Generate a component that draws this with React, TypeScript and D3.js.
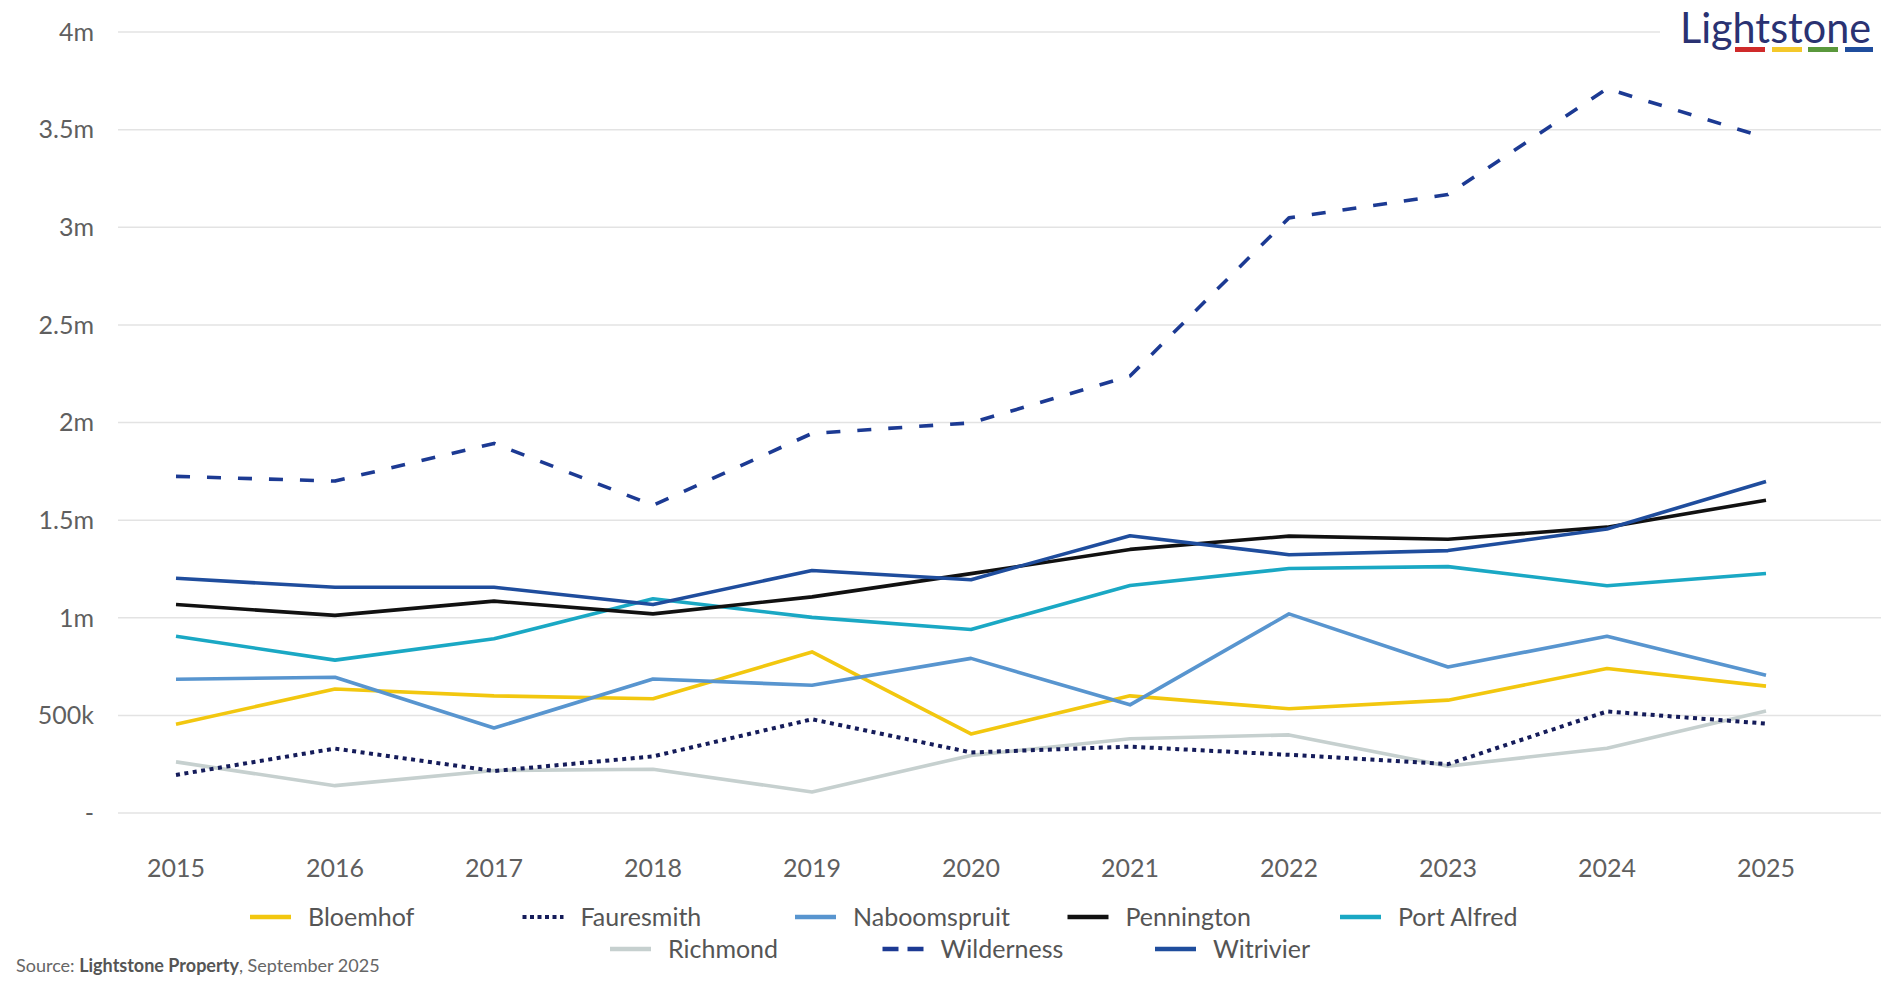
import * as d3 from 'd3';

// values (rand, per year)
const years = [2015, 2016, 2017, 2018, 2019, 2020, 2021, 2022, 2023, 2024, 2025];

const bloemhof = [455000, 635000, 600000, 585000, 825000, 405000, 600000, 534000, 578000, 740000, 650000];
const fauresmith = [195000, 330000, 215000, 290000, 480000, 310000, 340000, 298000, 250000, 520000, 458000];
const naboomspruit = [685000, 695000, 435000, 686000, 654000, 792000, 554000, 1020000, 748000, 905000, 705000];
const pennington = [1068000, 1012000, 1085000, 1020000, 1107000, 1226000, 1350000, 1418000, 1402000, 1464000, 1602000];
const portAlfred = [905000, 783000, 892000, 1097000, 1002000, 940000, 1165000, 1252000, 1262000, 1164000, 1227000];
const richmond = [262000, 140000, 218000, 224000, 108000, 295000, 380000, 400000, 240000, 332000, 522000];
const wilderness = [1724000, 1700000, 1893000, 1576000, 1944000, 1998000, 2238000, 3048000, 3168000, 3710000, 3458000];
const witrivier = [1202000, 1156000, 1156000, 1068000, 1242000, 1195000, 1420000, 1323000, 1344000, 1455000, 1698000];

const yTicks = [0, 500000, 1000000, 1500000, 2000000, 2500000, 3000000, 3500000, 4000000];
const yTickLabels = ['-', '500k', '1m', '1.5m', '2m', '2.5m', '3m', '3.5m', '4m'];

const series = [
  { name: 'Bloemhof', values: bloemhof, color: '#f2c70f', dash: '' },
  { name: 'Fauresmith', values: fauresmith, color: '#151c5a', dash: '4,4.5' },
  { name: 'Naboomspruit', values: naboomspruit, color: '#5895cf', dash: '' },
  { name: 'Pennington', values: pennington, color: '#111111', dash: '' },
  { name: 'Port Alfred', values: portAlfred, color: '#1aa8c4', dash: '' },
  { name: 'Richmond', values: richmond, color: '#c6d0cf', dash: '' },
  { name: 'Wilderness', values: wilderness, color: '#1c3a93', dash: '14,17' },
  { name: 'Witrivier', values: witrivier, color: '#1f4d9d', dash: '' },
];

// draw order (back to front)
const drawOrder = ['Richmond', 'Fauresmith', 'Bloemhof', 'Naboomspruit', 'Port Alfred', 'Pennington', 'Witrivier', 'Wilderness'];

const W = 1881;
const H = 988;
const FONT = 'Lato, "Open Sans", sans-serif';

export default function App() {
  const x = d3.scaleLinear().domain([2015, 2025]).range([176, 1766]);
  const y = d3.scaleLinear().domain([0, 4000000]).range([813, 32]);

  const line = d3
    .line<number>()
    .x((_, i) => x(years[i]))
    .y((d) => y(d));

  const legendRows = [series.slice(0, 5), series.slice(5)];
  const colW = 272.5;
  const rowStart = [250, 610];
  const rowY = [917, 949];

  return (
    <svg width={W} height={H} style={{ position: 'absolute', left: 0, top: 0, background: '#fff' }} fontFamily={FONT}>
      {/* grid */}
      {yTicks.map((t) => (
        <line key={t} x1={118} x2={W} y1={y(t)} y2={y(t)} stroke="#e3e3e3" strokeWidth={1.5} />
      ))}
      {yTicks.map((t, i) => (
        <text key={'l' + t} x={94} y={y(t)} dy="0.35em" textAnchor="end" fontSize={25} fill="#5f5f5f">
          {yTickLabels[i]}
        </text>
      ))}
      {years.map((yr) => (
        <text key={yr} x={x(yr)} y={868} dy="0.35em" textAnchor="middle" fontSize={25} fill="#5f5f5f">
          {yr}
        </text>
      ))}

      {/* lines */}
      {drawOrder.map((n) => {
        const s = series.find((d) => d.name === n)!;
        return (
          <path
            key={n}
            d={line(s.values) || ''}
            fill="none"
            stroke={s.color}
            strokeWidth={s.dash === '4,4.5' ? 4 : 3.6}
            strokeDasharray={s.dash || undefined}
            strokeLinejoin="round"
          />
        );
      })}

      {/* legend */}
      {legendRows.map((row, r) =>
        row.map((s, i) => {
          const lx = rowStart[r] + i * colW;
          return (
            <g key={s.name}>
              <line
                x1={lx}
                x2={lx + 41}
                y1={rowY[r]}
                y2={rowY[r]}
                stroke={s.color}
                strokeWidth={s.dash === '4,4.5' ? 4 : 4.5}
                strokeDasharray={s.dash === '4,4.5' ? '4,3.5' : s.dash ? '16,9' : undefined}
              />
              <text x={lx + 58} y={rowY[r]} dy="0.35em" fontSize={25} fill="#555">
                {s.name}
              </text>
            </g>
          );
        })
      )}

      {/* source */}
      <text x={16} y={972} fontSize={18} fill="#666">
        Source: <tspan fontWeight="bold" fill="#555">Lightstone Property</tspan>, September 2025
      </text>

      {/* logo */}
      <rect x={1660} y={0} width={W - 1660} height={62} fill="#fff" />
      <text x={1680} y={43} fontSize={42} fill="#2a3272" textLength={191} lengthAdjust="spacingAndGlyphs">
        Lightstone
      </text>
      <rect x={1735} y={47} width={30} height={5} fill="#cf2a2a" />
      <rect x={1772} y={47} width={30} height={5} fill="#f4c82a" />
      <rect x={1808} y={47} width={30} height={5} fill="#5a983c" />
      <rect x={1845} y={47} width={28} height={5} fill="#1f4d9d" />
    </svg>
  );
}
